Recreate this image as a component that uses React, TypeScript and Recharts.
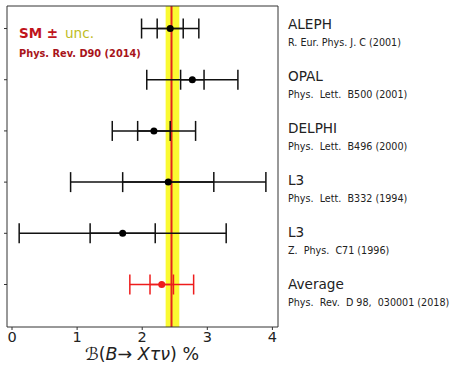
import React from "react";
import {
  ComposedChart,
  Scatter,
  ErrorBar,
  XAxis,
  YAxis,
  ReferenceArea,
  ReferenceLine,
} from "recharts";

const experiments = ["ALEPH", "OPAL", "DELPHI", "L3", "L3", "Average"];
const references = [
  "R. Eur. Phys. J. C (2001)",
  "Phys.  Lett.  B500 (2001)",
  "Phys.  Lett.  B496 (2000)",
  "Phys.  Lett.  B332 (1994)",
  "Z.  Phys.  C71 (1996)",
  "Phys.  Rev.  D 98,  030001 (2018)",
];
const central = [2.43, 2.77, 2.18, 2.4, 1.7, 2.3];
const statErr = [0.2, 0.18, 0.25, 0.7, 0.5, 0.18];
const totErr = [0.44, 0.7, 0.64, 1.5, 1.59, 0.49];
const rows = [5, 4, 3, 2, 1, 0];

const smValue = 2.45;
const smLow = 2.36;
const smHigh = 2.57;

const xTicks = [0, 1, 2, 3, 4];
const xDomain = [-0.077, 4.086];
const yDomain = [-0.83, 5.44];

const FONT = "DejaVu Sans";

const points = central.map((c, i) => ({
  x: c,
  y: rows[i],
  stat: statErr[i],
  tot: totErr[i],
}));
const measurements = points.slice(0, 5);
const average = points.slice(5);

function Dot({ cx, cy, fill }: any) {
  return <circle cx={cx} cy={cy} r={3.5} fill={fill} />;
}

// experiment name + reference, hung off the right-hand axis ticks
function RightLabel({ x, y, payload }: any) {
  const row = payload.value as number;
  const i = rows.indexOf(row);
  if (i < 0) return null;
  const shift = (5 - row) * 0.94;
  return (
    <g>
      <text x={x + 10} y={y + shift} fontSize={13.6} fill="#222" fontFamily={FONT}>
        {experiments[i]}
      </text>
      <text
        x={x + 10}
        y={y + shift + 17}
        fontSize={9.6}
        fill="#222"
        fontFamily={FONT}
        style={{ whiteSpace: "pre" }}
      >
        {references[i]}
      </text>
    </g>
  );
}

export default function App() {
  return (
    <div style={{ position: "absolute", left: 0, top: 0, width: 456, height: 365, background: "#fff" }}>
      <ComposedChart
        width={456}
        height={365}
        margin={{ top: 5, right: 177, bottom: 0, left: 0 }}
        style={{ fontFamily: FONT }}
      >
        <XAxis
          type="number"
          dataKey="x"
          domain={xDomain}
          ticks={xTicks}
          allowDataOverflow
          height={38}
          tickSize={3}
          tick={{ fontSize: 14.5, fill: "#222" }}
          stroke="#333"
        />
        <XAxis
          xAxisId="top"
          orientation="top"
          type="number"
          dataKey="x"
          domain={xDomain}
          allowDataOverflow
          height={1}
          tick={false}
          tickLine={false}
          stroke="#333"
        />
        <YAxis
          type="number"
          dataKey="y"
          domain={yDomain}
          ticks={rows}
          allowDataOverflow
          width={7}
          tickSize={3}
          tickFormatter={() => ""}
          stroke="#333"
        />
        <YAxis
          yAxisId="right"
          orientation="right"
          type="number"
          dataKey="y"
          domain={yDomain}
          ticks={rows}
          allowDataOverflow
          width={1}
          tickSize={0}
          tickMargin={0}
          tickLine={false}
          tick={<RightLabel />}
          stroke="#333"
        />
        <ReferenceArea x1={smLow} x2={smHigh} fill="#fafa32" fillOpacity={1} stroke="none" />
        <ReferenceLine x={smValue} stroke="#e3261d" strokeWidth={2} />
        <Scatter
          data={points}
          xAxisId="top"
          yAxisId="right"
          shape={() => null}
          isAnimationActive={false}
          legendType="none"
        />
        <Scatter
          data={measurements}
          fill="#000"
          shape={(p: any) => <Dot {...p} fill="#000" />}
          isAnimationActive={false}
        >
          <ErrorBar dataKey="tot" direction="x" width={10} stroke="#111" strokeWidth={1.5} />
          <ErrorBar dataKey="stat" direction="x" width={10} stroke="#111" strokeWidth={1.5} />
        </Scatter>
        <Scatter
          data={average}
          fill="#ee1c1c"
          shape={(p: any) => <Dot {...p} fill="#ee1c1c" />}
          isAnimationActive={false}
        >
          <ErrorBar dataKey="tot" direction="x" width={10} stroke="#ee1c1c" strokeWidth={1.5} />
          <ErrorBar dataKey="stat" direction="x" width={10} stroke="#ee1c1c" strokeWidth={1.5} />
        </Scatter>
      </ComposedChart>
      <svg
        width={456}
        height={365}
        style={{ position: "absolute", left: 0, top: 0, pointerEvents: "none" }}
        fontFamily={FONT}
      >
        <text x={19} y={38} fontSize={13.5} fontWeight="bold" fill="#c0141c">
          SM ±
        </text>
        <text x={65} y={38} fontSize={13.6} fill="#bebc1e">
          unc.
        </text>
        <text x={19} y={57} fontSize={9.8} fontWeight="bold" fill="#a8141a">
          Phys. Rev. D90 (2014)
        </text>
        <text x={142} y={360} fontSize={17.5} fill="#222" textAnchor="middle">
          <tspan fontStyle="italic">ℬ</tspan>
          <tspan>(</tspan>
          <tspan fontStyle="italic">B</tspan>
          <tspan>→ </tspan>
          <tspan fontStyle="italic">Xτν</tspan>
          <tspan>) %</tspan>
        </text>
      </svg>
    </div>
  );
}
